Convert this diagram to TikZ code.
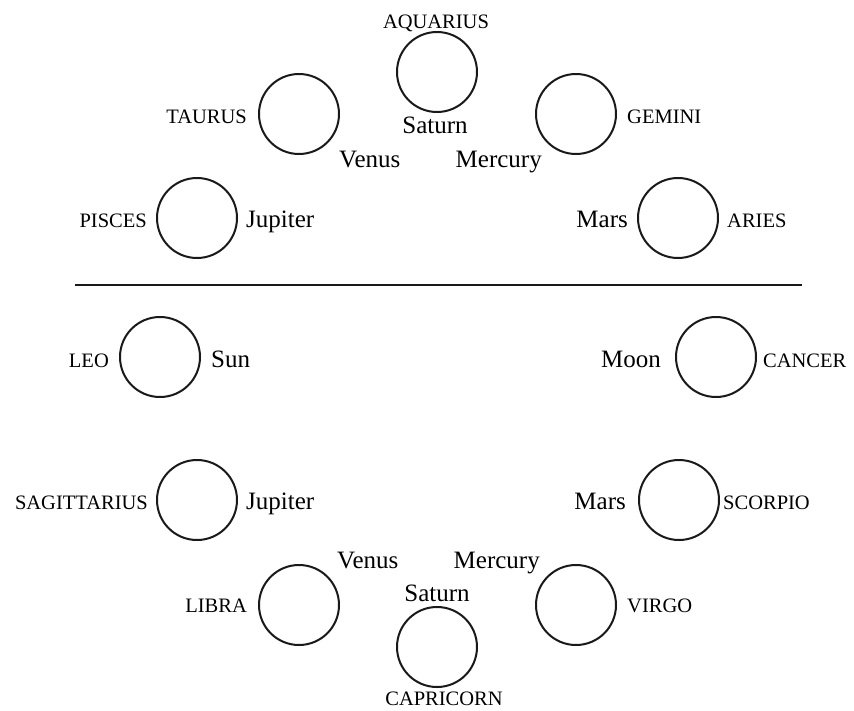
\documentclass[tikz,border=0pt]{standalone}
\usepackage{fontspec}
\setmainfont{Liberation Serif}
\begin{document}
\begin{tikzpicture}[x=1pt,y=-1pt,
  ring/.style={circle,draw=black!90,line width=2pt,minimum size=80pt,inner sep=0pt},
  sign/.style={inner sep=0pt,font=\fontsize{20.5}{24}\selectfont},
  planet/.style={inner sep=0pt,font=\fontsize{25}{29}\selectfont}]
\useasboundingbox (0,0) rectangle (854,710);
% divider
\coordinate (l1) at (75,285);
\coordinate (l2) at (802,285);
\draw[line width=2.3pt,black!90] (l1) -- (l2);
% top half
\node[ring] (caqu) at (437,72) {};
\node[sign,anchor=base] (taqu) at (436,28) {AQUARIUS};
\node[planet,anchor=base] (psat1) at (435,133) {Saturn};
\node[ring] (ctau) at (299,114) {};
\node[sign,anchor=base east] (ttau) at (247,123) {TAURUS};
\node[planet,anchor=base west] (pven1) at (339,167) {Venus};
\node[ring] (cgem) at (576,114) {};
\node[sign,anchor=base west] (tgem) at (627,123) {GEMINI};
\node[planet,anchor=base east] (pmer1) at (542,167) {Mercury};
\node[ring] (cpis) at (197,218) {};
\node[sign,anchor=base east] (tpis) at (147,227) {PISCES};
\node[planet,anchor=base west] (pjup1) at (246,227) {Jupiter};
\node[ring] (cari) at (678,218) {};
\node[planet,anchor=base east] (pmar1) at (628,227) {Mars};
\node[sign,anchor=base west] (tari) at (727,227) {ARIES};
% bottom half
\node[ring] (cleo) at (160,357) {};
\node[sign,anchor=base east] (tleo) at (109,367) {LEO};
\node[planet,anchor=base west] (psun) at (211,367) {Sun};
\node[ring] (ccan) at (716,357) {};
\node[planet,anchor=base east] (pmoon) at (661,367) {Moon};
\node[sign,anchor=base west] (tcan) at (763,367) {CANCER};
\node[ring] (csag) at (197,500) {};
\node[sign,anchor=base east] (tsag) at (148,509) {SAGITTARIUS};
\node[planet,anchor=base west] (pjup2) at (246,509) {Jupiter};
\node[ring] (csco) at (679,500) {};
\node[planet,anchor=base east] (pmar2) at (626,509) {Mars};
\node[sign,anchor=base west] (tsco) at (723,509) {SCORPIO};
\node[ring] (clib) at (299,605) {};
\node[sign,anchor=base east] (tlib) at (247,612) {LIBRA};
\node[planet,anchor=base west] (pven2) at (337,568) {Venus};
\node[ring] (cvir) at (576,605) {};
\node[sign,anchor=base west] (tvir) at (627,612) {VIRGO};
\node[planet,anchor=base east] (pmer2) at (540,568) {Mercury};
\node[ring] (ccap) at (437,647) {};
\node[planet,anchor=base] (psat2) at (437,601) {Saturn};
\node[sign,anchor=base] (tcap) at (444,705) {CAPRICORN};
\end{tikzpicture}
\end{document}
